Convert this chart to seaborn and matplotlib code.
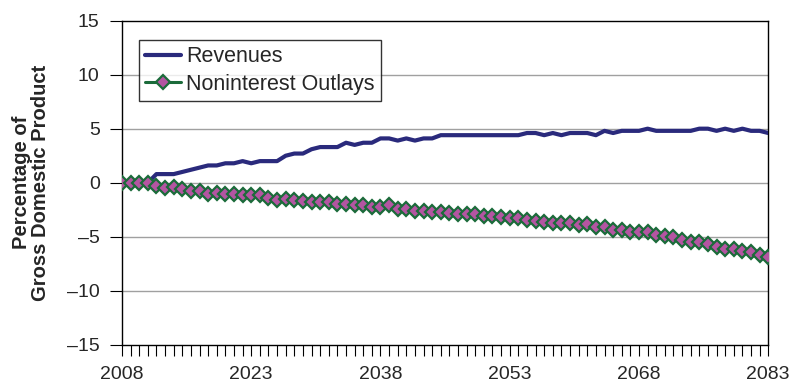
import numpy as np
import pandas as pd
import matplotlib
matplotlib.use("Agg")
import matplotlib.pyplot as plt
import seaborn as sns

years = list(range(2008, 2084))

revenues = [
    0.0, 0.0, 0.0, 0.0, 0.8, 0.8, 0.8, 1.0, 1.2, 1.4,   # 2008-2017
    1.6, 1.6, 1.8, 1.8, 2.0, 1.8, 2.0, 2.0, 2.0, 2.5,   # 2018-2027
    2.7, 2.7, 3.1, 3.3, 3.3, 3.3, 3.7, 3.5, 3.7, 3.7,   # 2028-2037
    4.1, 4.1, 3.9, 4.1, 3.9, 4.1, 4.1, 4.4, 4.4, 4.4,   # 2038-2047
    4.4, 4.4, 4.4, 4.4, 4.4, 4.4, 4.4, 4.6, 4.6, 4.4,   # 2048-2057
    4.6, 4.4, 4.6, 4.6, 4.6, 4.4, 4.8, 4.6, 4.8, 4.8,   # 2058-2067
    4.8, 5.0, 4.8, 4.8, 4.8, 4.8, 4.8, 5.0, 5.0, 4.8,   # 2068-2077
    5.0, 4.8, 5.0, 4.8, 4.8, 4.6,                       # 2078-2083
]

outlays = [
    0.0, 0.0, 0.0, 0.0, -0.3, -0.45, -0.35, -0.6, -0.8, -0.8,          # 2008-2017
    -1.05, -0.95, -1.0, -1.0, -1.15, -1.1, -1.1, -1.4, -1.55, -1.5,    # 2018-2027
    -1.55, -1.7, -1.8, -1.8, -1.8, -2.0, -2.0, -2.1, -2.1, -2.2,       # 2028-2037
    -2.2, -2.1, -2.4, -2.45, -2.65, -2.65, -2.75, -2.75, -2.8, -2.9,   # 2038-2047
    -2.9, -2.9, -3.05, -3.1, -3.2, -3.3, -3.3, -3.45, -3.55, -3.6,     # 2048-2057
    -3.7, -3.7, -3.7, -3.9, -3.8, -4.1, -4.1, -4.35, -4.35, -4.55,     # 2058-2067
    -4.6, -4.6, -4.8, -4.95, -5.05, -5.3, -5.45, -5.5, -5.7, -5.9,     # 2068-2077
    -6.1, -6.1, -6.3, -6.45, -6.7, -6.9,                               # 2078-2083
]

series_names = ["Revenues", "Noninterest Outlays"]
y_ticks = [-15, -10, -5, 0, 5, 10, 15]
x_labels = [2008, 2023, 2038, 2053, 2068, 2083]

df = pd.DataFrame({"Year": years, series_names[0]: revenues, series_names[1]: outlays})

sns.set_style("white")
plt.rcParams["font.family"] = ["Liberation Sans", "DejaVu Sans"]

fig = plt.figure(figsize=(7.92, 3.88), dpi=100)
ax = fig.add_axes([0.154, 0.111, 0.816, 0.836])

sns.lineplot(data=df, x="Year", y=series_names[0], ax=ax, color="#2A2A7C",
             linewidth=3.0, label=series_names[0], zorder=3)
sns.lineplot(data=df, x="Year", y=series_names[1], ax=ax, color="#1B6B3A",
             linewidth=2.2, marker="D", markersize=6.8, markerfacecolor="#B455A2",
             markeredgecolor="#1B6B3A", markeredgewidth=1.6,
             label=series_names[1], zorder=4)

ax.set_xlim(2008, 2083)
ax.set_ylim(-15, 15)
ax.set_yticks(y_ticks)
ax.set_yticklabels([str(v).replace("-", "\u2013") for v in y_ticks], fontsize=14)
ax.set_xticks(years)
ax.set_xticklabels([str(y) if y in x_labels else "" for y in years], fontsize=14)
ax.tick_params(axis="x", direction="out", length=8, width=0.8, color="black", pad=7)
ax.tick_params(axis="y", direction="out", length=9, width=0.8, color="black", pad=7)
ax.xaxis.set_ticks_position("bottom")
ax.yaxis.set_ticks_position("left")

for v in y_ticks[1:-1]:
    ax.axhline(v, color="#A0A0A0", linewidth=1.0, zorder=1)

for s in ax.spines.values():
    s.set_visible(True)
    s.set_color("black")
    s.set_linewidth(1.0)

ax.set_xlabel("")
ax.set_ylabel("Percentage of\nGross Domestic Product", fontsize=14.5,
              fontweight="bold", labelpad=12, linespacing=1.05)

leg = ax.legend(loc="upper left", bbox_to_anchor=(0.026, 0.94), fontsize=15.5,
                frameon=True, fancybox=False, handlelength=1.65, handletextpad=0.25,
                borderpad=0.3, labelspacing=0.3, borderaxespad=0.0)
leg.get_frame().set_edgecolor("black")
leg.get_frame().set_linewidth(1.0)

fig.savefig("out.png", dpi=100)
